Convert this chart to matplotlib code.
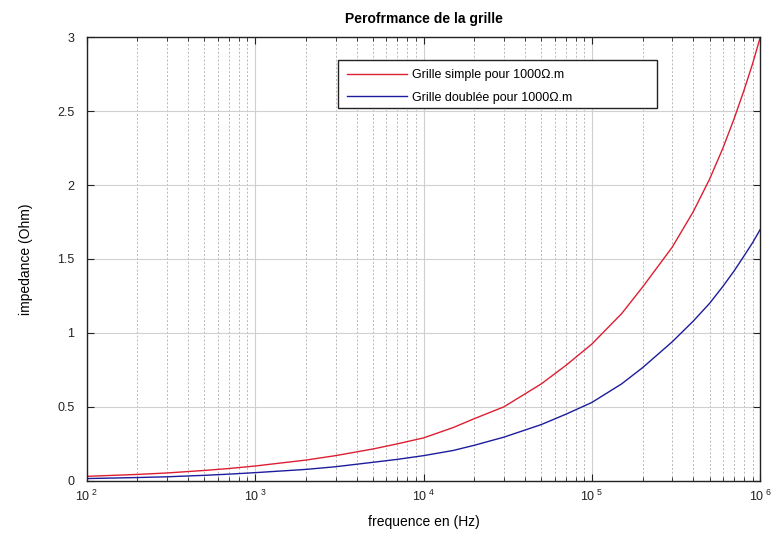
import matplotlib
matplotlib.use("Agg")
import matplotlib.pyplot as plt
from matplotlib.patches import Rectangle
from matplotlib.ticker import LogLocator, FixedLocator, NullFormatter

# Frequency samples (Hz) and grid impedance (Ohm) for the two grid layouts
freq_hz = [1e2, 2e2, 3e2, 5e2, 7e2, 1e3, 2e3, 3e3, 5e3, 7e3,
           1e4, 1.5e4, 2e4, 3e4, 5e4, 7e4, 1e5, 1.5e5, 2e5, 3e5,
           4e5, 5e5, 6e5, 7e5, 8e5, 9e5, 1e6]
z_simple = [0.030, 0.043, 0.053, 0.070, 0.083, 0.100, 0.140, 0.170, 0.215, 0.250,
            0.290, 0.360, 0.420, 0.500, 0.655, 0.780, 0.925, 1.130, 1.310, 1.580,
            1.820, 2.040, 2.250, 2.450, 2.640, 2.820, 3.000]
z_double = [0.015, 0.022, 0.027, 0.037, 0.045, 0.055, 0.077, 0.095, 0.125, 0.145,
            0.170, 0.205, 0.240, 0.295, 0.380, 0.450, 0.530, 0.655, 0.765, 0.940,
            1.080, 1.200, 1.315, 1.420, 1.520, 1.610, 1.700]

series_labels = ["Grille simple pour 1000\u03a9.m", "Grille doublée pour 1000\u03a9.m"]
y_ticks = [0, 0.5, 1, 1.5, 2, 2.5, 3]
y_tick_labels = ["0", "0.5", "1", "1.5", "2", "2.5", "3"]
x_ticks = [1e2, 1e3, 1e4, 1e5, 1e6]
x_tick_labels = ["$10^{\\ 2}$", "$10^{\\ 3}$", "$10^{\\ 4}$", "$10^{\\ 5}$", "$10^{\\ 6}$"]

plt.rcParams["font.family"] = ["Liberation Sans", "DejaVu Sans"]
plt.rcParams["mathtext.fontset"] = "custom"
plt.rcParams["mathtext.rm"] = "Liberation Sans"
plt.rcParams["mathtext.it"] = "Liberation Sans"

fig = plt.figure(figsize=(7.75, 5.39), dpi=100)
ax = fig.add_axes([0.112, 0.108, 0.869, 0.823])

ax.plot(freq_hz, z_simple, color="#dc1e32", lw=1.0, label=series_labels[0])
ax.plot(freq_hz, z_double, color="#1c1c9c", lw=1.0, label=series_labels[1])

ax.set_xscale("log")
ax.set_xlim(1e2, 1e6)
ax.set_ylim(0, 3)

ax.xaxis.set_major_locator(FixedLocator(x_ticks))
ax.set_xticklabels(x_tick_labels)
ax.xaxis.set_minor_locator(LogLocator(base=10, subs=range(2, 10), numticks=20))
ax.xaxis.set_minor_formatter(NullFormatter())
ax.set_yticks(y_ticks)
ax.set_yticklabels(y_tick_labels)

ax.grid(True, which="major", color="#d0d0d0", lw=0.8, ls="-")
ax.grid(True, which="minor", axis="x", color="#b8b8b8", lw=0.7, ls=(0, (2, 2)))
ax.set_axisbelow(True)

ax.tick_params(which="both", direction="in", top=True, right=True,
               labelsize=9, colors="#222222")
ax.tick_params(which="major", length=5)
ax.tick_params(which="minor", length=3)
ax.tick_params(axis="x", pad=6)
ax.tick_params(axis="y", pad=9)
for s in ax.spines.values():
    s.set_color("#222222")
    s.set_linewidth(1.0)

ax.set_title("Perofrmance de la grille", fontsize=10, fontweight="bold", pad=10)
ax.set_xlabel("frequence en (Hz)", fontsize=10, labelpad=8)
ax.set_ylabel("impedance (Ohm)", fontsize=10, labelpad=17)

# Legend entries without their own frame, boxed by a wider rectangle
leg = ax.legend(loc="upper left", bbox_to_anchor=(0.436, 0.889),
                bbox_transform=fig.transFigure, fontsize=9,
                handlelength=4.8, handletextpad=0.4, borderpad=0.25,
                labelspacing=0.85, frameon=False)
leg.set_zorder(6)
frame = Rectangle((0.436, 0.800), 0.412, 0.089, transform=fig.transFigure,
                  facecolor="white", edgecolor="#222222", lw=1.0,
                  zorder=5, clip_on=False)
ax.add_patch(frame)

fig.savefig("out.png", dpi=100, facecolor="white")
